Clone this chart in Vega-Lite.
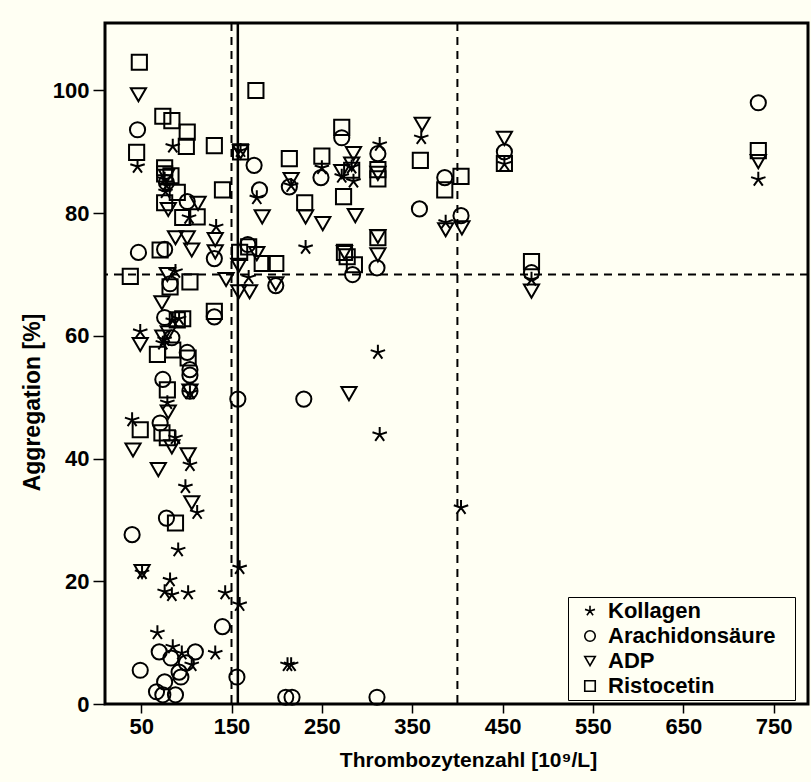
{
  "$schema": "https://vega.github.io/schema/vega-lite/v6.json",
  "autosize": {"type": "none"},
  "padding": {"left": 105, "top": 23, "right": 3, "bottom": 78},
  "width": 703,
  "height": 681,
  "background": "#FFFFF3",
  "config": {
    "font": "Liberation Sans",
    "view": {"stroke": "black", "strokeWidth": 3, "fill": "#FFFFF3"},
    "axis": {
      "domain": false,
      "grid": false,
      "tickColor": "black",
      "tickWidth": 1.5,
      "tickSize": 12,
      "labelColor": "black",
      "labelFont": "Liberation Sans",
      "labelFontWeight": "bold",
      "labelFontSize": 22,
      "titleColor": "black",
      "titleFont": "Liberation Sans",
      "titleFontWeight": "bold",
      "titleFontSize": 21
    }
  },
  "layer": [
    {
      "data": {"values": [{"cutoff": 150}, {"cutoff": 400}]},
      "mark": {"type": "rule", "stroke": "black", "strokeWidth": 2, "strokeDash": [8, 6]},
      "encoding": {"x": {"field": "cutoff", "type": "quantitative", "scale": {"domain": [10, 788]}}}
    },
    {
      "data": {"values": [{"cutoff": 157}]},
      "mark": {"type": "rule", "stroke": "black", "strokeWidth": 2.5},
      "encoding": {"x": {"field": "cutoff", "type": "quantitative"}}
    },
    {
      "data": {"values": [{"level": 70}]},
      "mark": {"type": "rule", "stroke": "black", "strokeWidth": 2, "strokeDash": [8, 6]},
      "encoding": {"y": {"field": "level", "type": "quantitative", "scale": {"domain": [0, 111]}}}
    },
    {
      "data": {
        "values": [
          {"Plt": 46, "Agg": 87.6, "Agonist": "Kollagen"},
          {"Plt": 85, "Agg": 90.9, "Agonist": "Kollagen"},
          {"Plt": 160, "Agg": 90.2, "Agonist": "Kollagen"},
          {"Plt": 76, "Agg": 85.5, "Agonist": "Kollagen"},
          {"Plt": 78, "Agg": 84.5, "Agonist": "Kollagen"},
          {"Plt": 77, "Agg": 83.5, "Agonist": "Kollagen"},
          {"Plt": 103, "Agg": 79.3, "Agonist": "Kollagen"},
          {"Plt": 133, "Agg": 77.8, "Agonist": "Kollagen"},
          {"Plt": 178, "Agg": 82.5, "Agonist": "Kollagen"},
          {"Plt": 216, "Agg": 84.5, "Agonist": "Kollagen"},
          {"Plt": 250, "Agg": 87.4, "Agonist": "Kollagen"},
          {"Plt": 272, "Agg": 86.0, "Agonist": "Kollagen"},
          {"Plt": 283, "Agg": 87.5, "Agonist": "Kollagen"},
          {"Plt": 285, "Agg": 85.2, "Agonist": "Kollagen"},
          {"Plt": 314, "Agg": 91.2, "Agonist": "Kollagen"},
          {"Plt": 360, "Agg": 92.3, "Agonist": "Kollagen"},
          {"Plt": 387, "Agg": 78.5, "Agonist": "Kollagen"},
          {"Plt": 452, "Agg": 88.0, "Agonist": "Kollagen"},
          {"Plt": 733, "Agg": 85.5, "Agonist": "Kollagen"},
          {"Plt": 482, "Agg": 69.2, "Agonist": "Kollagen"},
          {"Plt": 232, "Agg": 74.4, "Agonist": "Kollagen"},
          {"Plt": 169, "Agg": 69.5, "Agonist": "Kollagen"},
          {"Plt": 88, "Agg": 70.5, "Agonist": "Kollagen"},
          {"Plt": 312, "Agg": 57.3, "Agonist": "Kollagen"},
          {"Plt": 314, "Agg": 43.9, "Agonist": "Kollagen"},
          {"Plt": 404, "Agg": 32.0, "Agonist": "Kollagen"},
          {"Plt": 212, "Agg": 6.4, "Agonist": "Kollagen"},
          {"Plt": 216, "Agg": 6.4, "Agonist": "Kollagen"},
          {"Plt": 49, "Agg": 60.7, "Agonist": "Kollagen"},
          {"Plt": 85, "Agg": 62.5, "Agonist": "Kollagen"},
          {"Plt": 92, "Agg": 62.8, "Agonist": "Kollagen"},
          {"Plt": 76, "Agg": 59.4, "Agonist": "Kollagen"},
          {"Plt": 74, "Agg": 58.8, "Agonist": "Kollagen"},
          {"Plt": 104, "Agg": 50.7, "Agonist": "Kollagen"},
          {"Plt": 79, "Agg": 49.1, "Agonist": "Kollagen"},
          {"Plt": 40, "Agg": 46.3, "Agonist": "Kollagen"},
          {"Plt": 88, "Agg": 43.4, "Agonist": "Kollagen"},
          {"Plt": 104, "Agg": 39.0, "Agonist": "Kollagen"},
          {"Plt": 99, "Agg": 35.4, "Agonist": "Kollagen"},
          {"Plt": 112, "Agg": 31.2, "Agonist": "Kollagen"},
          {"Plt": 91, "Agg": 25.1, "Agonist": "Kollagen"},
          {"Plt": 51, "Agg": 21.4, "Agonist": "Kollagen"},
          {"Plt": 82, "Agg": 20.2, "Agonist": "Kollagen"},
          {"Plt": 76, "Agg": 18.3, "Agonist": "Kollagen"},
          {"Plt": 84, "Agg": 17.8, "Agonist": "Kollagen"},
          {"Plt": 102, "Agg": 18.1, "Agonist": "Kollagen"},
          {"Plt": 143, "Agg": 18.1, "Agonist": "Kollagen"},
          {"Plt": 159, "Agg": 22.2, "Agonist": "Kollagen"},
          {"Plt": 159, "Agg": 16.2, "Agonist": "Kollagen"},
          {"Plt": 68, "Agg": 11.6, "Agonist": "Kollagen"},
          {"Plt": 85, "Agg": 9.3, "Agonist": "Kollagen"},
          {"Plt": 95, "Agg": 8.3, "Agonist": "Kollagen"},
          {"Plt": 106, "Agg": 6.4, "Agonist": "Kollagen"},
          {"Plt": 132, "Agg": 8.3, "Agonist": "Kollagen"},

          {"Plt": 46, "Agg": 93.6, "Agonist": "Arachidonsäure"},
          {"Plt": 47, "Agg": 73.6, "Agonist": "Arachidonsäure"},
          {"Plt": 175, "Agg": 87.8, "Agonist": "Arachidonsäure"},
          {"Plt": 214, "Agg": 84.3, "Agonist": "Arachidonsäure"},
          {"Plt": 249, "Agg": 85.8, "Agonist": "Arachidonsäure"},
          {"Plt": 272, "Agg": 92.3, "Agonist": "Arachidonsäure"},
          {"Plt": 312, "Agg": 89.7, "Agonist": "Arachidonsäure"},
          {"Plt": 386, "Agg": 85.8, "Agonist": "Arachidonsäure"},
          {"Plt": 358, "Agg": 80.7, "Agonist": "Arachidonsäure"},
          {"Plt": 404, "Agg": 79.6, "Agonist": "Arachidonsäure"},
          {"Plt": 452, "Agg": 90.0, "Agonist": "Arachidonsäure"},
          {"Plt": 733, "Agg": 98.0, "Agonist": "Arachidonsäure"},
          {"Plt": 482, "Agg": 70.3, "Agonist": "Arachidonsäure"},
          {"Plt": 181, "Agg": 83.8, "Agonist": "Arachidonsäure"},
          {"Plt": 101, "Agg": 81.9, "Agonist": "Arachidonsäure"},
          {"Plt": 168, "Agg": 74.9, "Agonist": "Arachidonsäure"},
          {"Plt": 131, "Agg": 72.6, "Agonist": "Arachidonsäure"},
          {"Plt": 199, "Agg": 68.2, "Agonist": "Arachidonsäure"},
          {"Plt": 284, "Agg": 70.0, "Agonist": "Arachidonsäure"},
          {"Plt": 311, "Agg": 71.1, "Agonist": "Arachidonsäure"},
          {"Plt": 76, "Agg": 74.1, "Agonist": "Arachidonsäure"},
          {"Plt": 82, "Agg": 68.5, "Agonist": "Arachidonsäure"},
          {"Plt": 131, "Agg": 63.1, "Agonist": "Arachidonsäure"},
          {"Plt": 76, "Agg": 63.0, "Agonist": "Arachidonsäure"},
          {"Plt": 84, "Agg": 59.7, "Agonist": "Arachidonsäure"},
          {"Plt": 101, "Agg": 57.3, "Agonist": "Arachidonsäure"},
          {"Plt": 104, "Agg": 54.5, "Agonist": "Arachidonsäure"},
          {"Plt": 104, "Agg": 53.6, "Agonist": "Arachidonsäure"},
          {"Plt": 74, "Agg": 52.9, "Agonist": "Arachidonsäure"},
          {"Plt": 104, "Agg": 51.0, "Agonist": "Arachidonsäure"},
          {"Plt": 157, "Agg": 49.7, "Agonist": "Arachidonsäure"},
          {"Plt": 230, "Agg": 49.7, "Agonist": "Arachidonsäure"},
          {"Plt": 71, "Agg": 45.8, "Agonist": "Arachidonsäure"},
          {"Plt": 78, "Agg": 30.3, "Agonist": "Arachidonsäure"},
          {"Plt": 40, "Agg": 27.6, "Agonist": "Arachidonsäure"},
          {"Plt": 140, "Agg": 12.6, "Agonist": "Arachidonsäure"},
          {"Plt": 70, "Agg": 8.5, "Agonist": "Arachidonsäure"},
          {"Plt": 83, "Agg": 7.5, "Agonist": "Arachidonsäure"},
          {"Plt": 110, "Agg": 8.5, "Agonist": "Arachidonsäure"},
          {"Plt": 100, "Agg": 6.7, "Agonist": "Arachidonsäure"},
          {"Plt": 92, "Agg": 5.2, "Agonist": "Arachidonsäure"},
          {"Plt": 94, "Agg": 4.4, "Agonist": "Arachidonsäure"},
          {"Plt": 49, "Agg": 5.5, "Agonist": "Arachidonsäure"},
          {"Plt": 76, "Agg": 3.6, "Agonist": "Arachidonsäure"},
          {"Plt": 67, "Agg": 2.0, "Agonist": "Arachidonsäure"},
          {"Plt": 74, "Agg": 1.5, "Agonist": "Arachidonsäure"},
          {"Plt": 88, "Agg": 1.5, "Agonist": "Arachidonsäure"},
          {"Plt": 156, "Agg": 4.4, "Agonist": "Arachidonsäure"},
          {"Plt": 210, "Agg": 1.1, "Agonist": "Arachidonsäure"},
          {"Plt": 217, "Agg": 1.1, "Agonist": "Arachidonsäure"},
          {"Plt": 311, "Agg": 1.1, "Agonist": "Arachidonsäure"},
          {"Plt": 78, "Agg": 85.0, "Agonist": "Arachidonsäure"},

          {"Plt": 47, "Agg": 99.3, "Agonist": "ADP"},
          {"Plt": 160, "Agg": 90.0, "Agonist": "ADP"},
          {"Plt": 216, "Agg": 85.5, "Agonist": "ADP"},
          {"Plt": 285, "Agg": 89.7, "Agonist": "ADP"},
          {"Plt": 272, "Agg": 86.8, "Agonist": "ADP"},
          {"Plt": 283, "Agg": 88.0, "Agonist": "ADP"},
          {"Plt": 312, "Agg": 86.5, "Agonist": "ADP"},
          {"Plt": 361, "Agg": 94.5, "Agonist": "ADP"},
          {"Plt": 452, "Agg": 92.2, "Agonist": "ADP"},
          {"Plt": 733, "Agg": 88.4, "Agonist": "ADP"},
          {"Plt": 387, "Agg": 77.3, "Agonist": "ADP"},
          {"Plt": 405, "Agg": 77.6, "Agonist": "ADP"},
          {"Plt": 482, "Agg": 67.3, "Agonist": "ADP"},
          {"Plt": 184, "Agg": 79.4, "Agonist": "ADP"},
          {"Plt": 232, "Agg": 79.4, "Agonist": "ADP"},
          {"Plt": 251, "Agg": 78.3, "Agonist": "ADP"},
          {"Plt": 287, "Agg": 79.6, "Agonist": "ADP"},
          {"Plt": 113, "Agg": 81.6, "Agonist": "ADP"},
          {"Plt": 80, "Agg": 80.6, "Agonist": "ADP"},
          {"Plt": 78, "Agg": 86.0, "Agonist": "ADP"},
          {"Plt": 132, "Agg": 75.7, "Agonist": "ADP"},
          {"Plt": 132, "Agg": 73.7, "Agonist": "ADP"},
          {"Plt": 88, "Agg": 76.0, "Agonist": "ADP"},
          {"Plt": 101, "Agg": 76.0, "Agonist": "ADP"},
          {"Plt": 106, "Agg": 74.0, "Agonist": "ADP"},
          {"Plt": 178, "Agg": 73.4, "Agonist": "ADP"},
          {"Plt": 158, "Agg": 71.5, "Agonist": "ADP"},
          {"Plt": 144, "Agg": 69.2, "Agonist": "ADP"},
          {"Plt": 158, "Agg": 67.2, "Agonist": "ADP"},
          {"Plt": 170, "Agg": 67.2, "Agonist": "ADP"},
          {"Plt": 199, "Agg": 68.5, "Agonist": "ADP"},
          {"Plt": 275, "Agg": 73.6, "Agonist": "ADP"},
          {"Plt": 312, "Agg": 76.2, "Agonist": "ADP"},
          {"Plt": 312, "Agg": 73.2, "Agonist": "ADP"},
          {"Plt": 79, "Agg": 70.0, "Agonist": "ADP"},
          {"Plt": 73, "Agg": 65.4, "Agonist": "ADP"},
          {"Plt": 49, "Agg": 58.6, "Agonist": "ADP"},
          {"Plt": 74, "Agg": 59.8, "Agonist": "ADP"},
          {"Plt": 80, "Agg": 60.5, "Agonist": "ADP"},
          {"Plt": 104, "Agg": 51.0, "Agonist": "ADP"},
          {"Plt": 80, "Agg": 47.6, "Agonist": "ADP"},
          {"Plt": 84, "Agg": 41.9, "Agonist": "ADP"},
          {"Plt": 41, "Agg": 41.4, "Agonist": "ADP"},
          {"Plt": 102, "Agg": 40.6, "Agonist": "ADP"},
          {"Plt": 69, "Agg": 38.2, "Agonist": "ADP"},
          {"Plt": 106, "Agg": 32.8, "Agonist": "ADP"},
          {"Plt": 51, "Agg": 21.6, "Agonist": "ADP"},
          {"Plt": 280, "Agg": 50.6, "Agonist": "ADP"},

          {"Plt": 48, "Agg": 104.6, "Agonist": "Ristocetin"},
          {"Plt": 45, "Agg": 89.9, "Agonist": "Ristocetin"},
          {"Plt": 74, "Agg": 95.8, "Agonist": "Ristocetin"},
          {"Plt": 84, "Agg": 95.1, "Agonist": "Ristocetin"},
          {"Plt": 101, "Agg": 93.2, "Agonist": "Ristocetin"},
          {"Plt": 100, "Agg": 90.9, "Agonist": "Ristocetin"},
          {"Plt": 131, "Agg": 91.0, "Agonist": "Ristocetin"},
          {"Plt": 177, "Agg": 100.0, "Agonist": "Ristocetin"},
          {"Plt": 160, "Agg": 90.0, "Agonist": "Ristocetin"},
          {"Plt": 214, "Agg": 88.9, "Agonist": "Ristocetin"},
          {"Plt": 250, "Agg": 89.3, "Agonist": "Ristocetin"},
          {"Plt": 272, "Agg": 94.0, "Agonist": "Ristocetin"},
          {"Plt": 283, "Agg": 87.0, "Agonist": "Ristocetin"},
          {"Plt": 274, "Agg": 82.7, "Agonist": "Ristocetin"},
          {"Plt": 312, "Agg": 87.1, "Agonist": "Ristocetin"},
          {"Plt": 312, "Agg": 85.6, "Agonist": "Ristocetin"},
          {"Plt": 359, "Agg": 88.6, "Agonist": "Ristocetin"},
          {"Plt": 386, "Agg": 83.8, "Agonist": "Ristocetin"},
          {"Plt": 404, "Agg": 86.0, "Agonist": "Ristocetin"},
          {"Plt": 452, "Agg": 88.1, "Agonist": "Ristocetin"},
          {"Plt": 733, "Agg": 90.2, "Agonist": "Ristocetin"},
          {"Plt": 482, "Agg": 72.1, "Agonist": "Ristocetin"},
          {"Plt": 140, "Agg": 83.8, "Agonist": "Ristocetin"},
          {"Plt": 231, "Agg": 81.7, "Agonist": "Ristocetin"},
          {"Plt": 76, "Agg": 87.4, "Agonist": "Ristocetin"},
          {"Plt": 76, "Agg": 86.4, "Agonist": "Ristocetin"},
          {"Plt": 83, "Agg": 86.1, "Agonist": "Ristocetin"},
          {"Plt": 76, "Agg": 81.7, "Agonist": "Ristocetin"},
          {"Plt": 90, "Agg": 83.4, "Agonist": "Ristocetin"},
          {"Plt": 96, "Agg": 79.3, "Agonist": "Ristocetin"},
          {"Plt": 112, "Agg": 79.4, "Agonist": "Ristocetin"},
          {"Plt": 71, "Agg": 74.0, "Agonist": "Ristocetin"},
          {"Plt": 159, "Agg": 73.6, "Agonist": "Ristocetin"},
          {"Plt": 169, "Agg": 74.5, "Agonist": "Ristocetin"},
          {"Plt": 184, "Agg": 71.8, "Agonist": "Ristocetin"},
          {"Plt": 199, "Agg": 71.8, "Agonist": "Ristocetin"},
          {"Plt": 278, "Agg": 72.9, "Agonist": "Ristocetin"},
          {"Plt": 286, "Agg": 71.6, "Agonist": "Ristocetin"},
          {"Plt": 312, "Agg": 76.0, "Agonist": "Ristocetin"},
          {"Plt": 275, "Agg": 73.6, "Agonist": "Ristocetin"},
          {"Plt": 38, "Agg": 69.7, "Agonist": "Ristocetin"},
          {"Plt": 104, "Agg": 68.8, "Agonist": "Ristocetin"},
          {"Plt": 82, "Agg": 68.0, "Agonist": "Ristocetin"},
          {"Plt": 131, "Agg": 64.0, "Agonist": "Ristocetin"},
          {"Plt": 90, "Agg": 62.6, "Agonist": "Ristocetin"},
          {"Plt": 96, "Agg": 62.8, "Agonist": "Ristocetin"},
          {"Plt": 68, "Agg": 57.0, "Agonist": "Ristocetin"},
          {"Plt": 85, "Agg": 57.7, "Agonist": "Ristocetin"},
          {"Plt": 102, "Agg": 56.4, "Agonist": "Ristocetin"},
          {"Plt": 79, "Agg": 51.2, "Agonist": "Ristocetin"},
          {"Plt": 49, "Agg": 44.7, "Agonist": "Ristocetin"},
          {"Plt": 73, "Agg": 44.2, "Agonist": "Ristocetin"},
          {"Plt": 79, "Agg": 43.4, "Agonist": "Ristocetin"},
          {"Plt": 88, "Agg": 29.5, "Agonist": "Ristocetin"}
        ]
      },
      "mark": {"type": "point", "filled": false, "stroke": "black", "strokeWidth": 2, "size": 230, "opacity": 1},
      "encoding": {
        "x": {
          "field": "Plt",
          "type": "quantitative",
          "title": "Thrombozytenzahl [10⁹/L]",
          "scale": {"domain": [10, 788], "nice": false, "zero": false},
          "axis": {"values": [50, 150, 250, 350, 450, 550, 650, 750], "tickSize": 9, "labelPadding": 3, "titlePadding": 12, "titleX": 363}
        },
        "y": {
          "field": "Agg",
          "type": "quantitative",
          "title": "Aggregation [%]",
          "scale": {"domain": [0, 111], "nice": false},
          "axis": {"values": [0, 20, 40, 60, 80, 100], "labelPadding": 4, "titlePadding": 8, "titleFontSize": 23, "titleY": 379}
        },
        "shape": {
          "field": "Agonist",
          "type": "nominal",
          "scale": {
            "domain": ["Kollagen", "Arachidonsäure", "ADP", "Ristocetin"],
            "range": [
              "M0,0L0,-1M0,0L0.95,-0.31M0,0L0.59,0.81M0,0L-0.59,0.81M0,0L-0.95,-0.31",
              "circle",
              "triangle-down",
              "square"
            ]
          },
          "legend": {
            "title": null,
            "orient": "none",
            "legendX": 463,
            "legendY": 574,
            "direction": "vertical",
            "strokeColor": "black",
            "fillColor": "#FFFFF3",
            "padding": 3,
            "rowPadding": 3,
            "symbolSize": 110,
            "symbolOffset": 8,
            "symbolStrokeWidth": 1.6,
            "symbolStrokeColor": "black",
            "symbolFillColor": "transparent",
            "labelFont": "Liberation Sans",
            "labelFontWeight": "bold",
            "labelFontSize": 22,
            "labelColor": "black",
            "labelOffset": 7,
            "labelLimit": 300,
            "labelExpr": "datum.label + '\u2800'"
          }
        }
      }
    }
  ]
}
